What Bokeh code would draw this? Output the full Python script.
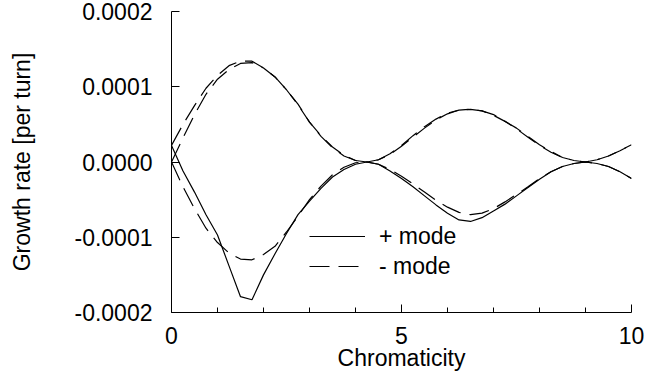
from bokeh.plotting import figure
from bokeh.models import Range1d, FixedTicker, PrintfTickFormatter, Legend, LegendItem
from bokeh.embed import file_html
from bokeh.resources import INLINE

# Chromaticity grid
chromaticity = [0.0, 0.25, 0.5, 0.75, 1.0, 1.25, 1.5, 1.75, 2.0, 2.25, 2.5, 2.75,
                3.0, 3.25, 3.5, 3.75, 4.0, 4.25, 4.5, 4.75, 5.0, 5.25, 5.5, 5.75,
                6.0, 6.25, 6.5, 6.75, 7.0, 7.25, 7.5, 7.75, 8.0, 8.25, 8.5, 8.75,
                9.0, 9.25, 9.5, 9.75, 10.0]

# growth rates in units of 1e-4 per turn
plus_mode_lower = [0.22, -0.12, -0.40, -0.70, -0.97, -1.38, -1.79, -1.83, -1.50, -1.22, -0.95, -0.70,
                   -0.52, -0.35, -0.20, -0.10, -0.03, 0.0, -0.03, -0.12, -0.22, -0.33, -0.45, -0.57,
                   -0.68, -0.77, -0.79, -0.74, -0.65, -0.56, -0.45, -0.34, -0.23, -0.13, -0.06, -0.02,
                   0.0, -0.02, -0.06, -0.13, -0.22]
minus_mode_lower = [0.0, -0.33, -0.62, -0.88, -1.07, -1.21, -1.29, -1.30, -1.23, -1.12, -0.93, -0.72,
                    -0.50, -0.32, -0.17, -0.07, -0.01, 0.0, -0.03, -0.10, -0.19, -0.29, -0.40, -0.51,
                    -0.60, -0.67, -0.70, -0.68, -0.62, -0.53, -0.43, -0.33, -0.22, -0.13, -0.06, -0.02,
                    0.0, -0.02, -0.06, -0.13, -0.22]
minus_mode_upper_a = [0.22, 0.50, 0.75, 0.98, 1.15, 1.28, 1.34, 1.34, 1.25, 1.13, 0.96, 0.77,
                      0.53, 0.35, 0.20, 0.09, 0.02, 0.0, 0.03, 0.11, 0.22, 0.35, 0.47, 0.57,
                      0.65, 0.69, 0.70, 0.68, 0.63, 0.54, 0.45, 0.34, 0.23, 0.14, 0.06, 0.02,
                      0.0, 0.03, 0.08, 0.15, 0.23]
minus_mode_upper_b = [0.0, 0.32, 0.63, 0.90, 1.10, 1.23, 1.31, 1.32, 1.25, 1.13, 0.96, 0.76,
                      0.53, 0.34, 0.19, 0.08, 0.02, 0.0, 0.03, 0.10, 0.21, 0.33, 0.45, 0.56,
                      0.64, 0.69, 0.70, 0.68, 0.62, 0.54, 0.44, 0.33, 0.22, 0.13, 0.06, 0.02,
                      0.0, 0.03, 0.08, 0.15, 0.23]

x_major_ticks = [0, 5, 10]
x_minor_ticks = [1, 2, 3, 4, 6, 7, 8, 9]
y_major_ticks = [-0.0002, -0.0001, 0.0, 0.0001, 0.0002]

scale = 1e-4
FONT = "Liberation Sans"
FS = "23px"

p = figure(width=646, height=373,
           x_range=Range1d(0, 10), y_range=Range1d(-0.0002, 0.0002),
           output_backend="svg", toolbar_location=None,
           min_border_left=171, min_border_right=15, min_border_top=11, min_border_bottom=60)
p.outline_line_color = None
p.xgrid.visible = False
p.ygrid.visible = False
p.background_fill_color = "white"
p.border_fill_color = "white"

def sc(v):
    return [a * scale for a in v]

r_plus = p.line(chromaticity, sc(plus_mode_lower), line_color="black", line_width=1.2)
r_minus = p.line(chromaticity, sc(minus_mode_lower), line_color="black", line_width=1.2, line_dash="20 9")
p.line(chromaticity, sc(minus_mode_upper_a), line_color="black", line_width=1.2, line_dash="20 9")
p.line(chromaticity, sc(minus_mode_upper_b), line_color="black", line_width=1.2, line_dash="20 9")

p.xaxis.ticker = FixedTicker(ticks=x_major_ticks, minor_ticks=x_minor_ticks)
p.yaxis.ticker = FixedTicker(ticks=y_major_ticks, minor_ticks=[])
p.yaxis.formatter = PrintfTickFormatter(format="%.4f")
p.xaxis.formatter = PrintfTickFormatter(format="%d")

for ax in (p.xaxis[0], p.yaxis[0]):
    ax.axis_line_color = "black"
    ax.axis_line_width = 1
    ax.major_tick_line_color = "black"
    ax.minor_tick_line_color = "black"
    ax.major_tick_in = 8
    ax.major_tick_out = 0
    ax.minor_tick_in = 5
    ax.minor_tick_out = 0
    ax.major_label_text_font = FONT
    ax.major_label_text_font_size = FS
    ax.major_label_text_color = "black"
    ax.axis_label_text_font = FONT
    ax.axis_label_text_font_size = FS
    ax.axis_label_text_font_style = "normal"
    ax.axis_label_text_color = "black"

p.xaxis.axis_label = "Chromaticity"
p.yaxis.axis_label = "Growth rate [per turn]"
p.yaxis.major_label_standoff = 19
p.yaxis.axis_label_standoff = 36
p.xaxis.major_label_standoff = 14
p.xaxis.axis_label_standoff = -2

legend = Legend(items=[LegendItem(label="+ mode", renderers=[r_plus]),
                       LegendItem(label="- mode", renderers=[r_minus])],
                location=(138, 31), padding=0, margin=0, spacing=0,
                glyph_width=56, glyph_height=30, label_height=30, label_standoff=14,
                label_text_font=FONT, label_text_font_size=FS, label_text_color="black",
                border_line_alpha=0, background_fill_alpha=0)
p.add_layout(legend, "center")

open("out.html", "w").write(file_html(p, INLINE))
